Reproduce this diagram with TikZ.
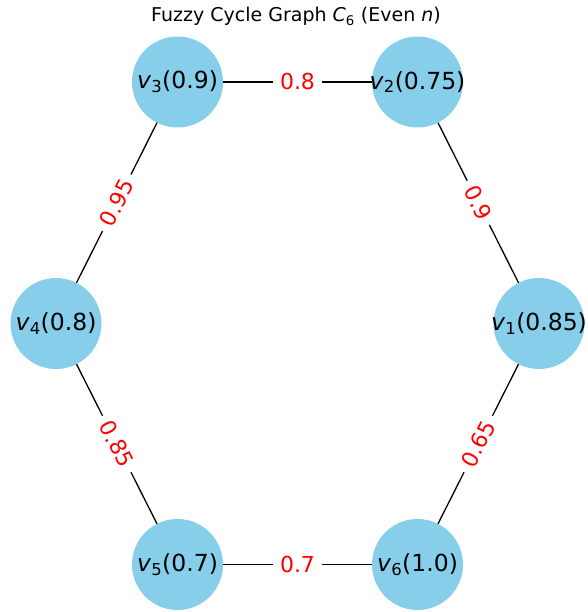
\documentclass[tikz,border=0pt]{standalone}
\usepackage{fontspec}
\setmainfont{DejaVu Sans}
\definecolor{skyblue}{HTML}{87CEEB}
\newcommand{\vlab}[2]{\makebox[0pt]{\textit{v}\textsubscript{#1}(#2)}}
\pgfdeclarelayer{background}
\pgfsetlayers{background,main}
\tikzset{
  vnode/.style={circle, fill=skyblue, minimum size=91pt, inner sep=0pt, font=\fontsize{23.5}{24}\selectfont},
  edgeline/.style={draw=black, line width=1.3pt},
  wlabel/.style={fill=white, text=red, inner sep=7pt, font=\fontsize{22}{22}\selectfont, sloped, pos=0.5}
}
\begin{document}
\begin{tikzpicture}[x=1pt,y=1pt]
\useasboundingbox (0,0) rectangle (587,612);
\node (title) at (296,596) {\fontsize{19}{19}\selectfont Fuzzy Cycle Graph \textit{C}\textsubscript{6} (Even \textit{n})};
\node[vnode] (v1) at (539,288.5) {\vlab{1}{0.85}};
\node[vnode] (v2) at (417.5,530) {\vlab{2}{0.75}};
\node[vnode] (v3) at (177.5,530) {\vlab{3}{0.9}};
\node[vnode] (v4) at (56,288.5) {\vlab{4}{0.8}};
\node[vnode] (v5) at (177.5,47.5) {\vlab{5}{0.7}};
\node[vnode] (v6) at (417.5,47.5) {\vlab{6}{1.0}};
\begin{pgfonlayer}{background}
\draw[edgeline] (v3.center) -- node[wlabel] (e32) {0.8} (v2.center);
\draw[edgeline] (v2.center) -- node[wlabel] (e21) {0.9} (v1.center);
\draw[edgeline] (v3.center) -- node[wlabel] (e34) {0.95} (v4.center);
\draw[edgeline] (v4.center) -- node[wlabel] (e45) {0.85} (v5.center);
\draw[edgeline] (v5.center) -- node[wlabel] (e56) {0.7} (v6.center);
\draw[edgeline] (v6.center) -- node[wlabel] (e61) {0.65} (v1.center);
\end{pgfonlayer}
\end{tikzpicture}
\end{document}
